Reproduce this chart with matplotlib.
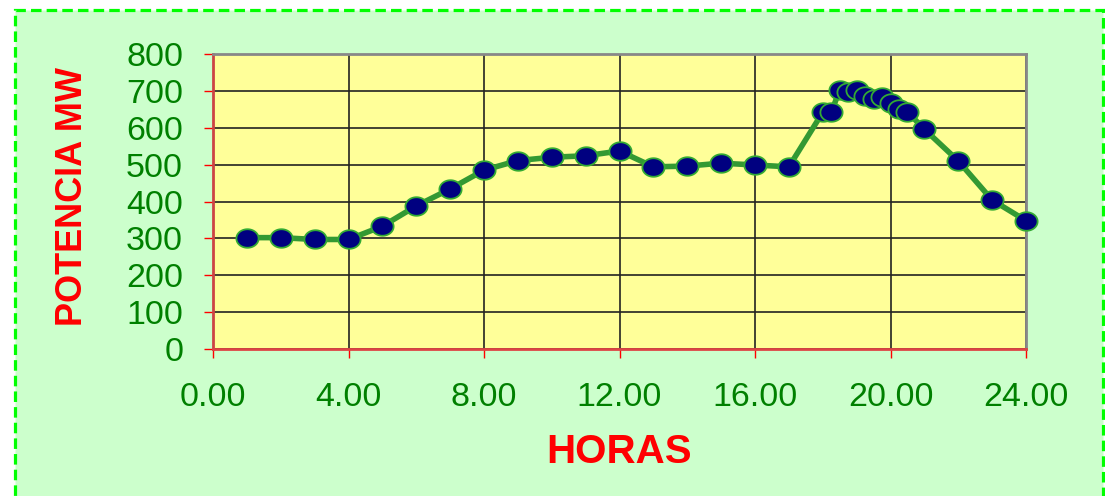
import numpy as np
import matplotlib
matplotlib.use("Agg")
from matplotlib import pyplot as plt
from matplotlib.patches import Rectangle
from matplotlib.path import Path

# daily load curve
horas = [1, 2, 3, 4, 5, 6, 7, 8, 9, 10, 11, 12, 13, 14, 15, 16, 17,
         18, 18.25, 18.5, 18.75, 19, 19.25, 19.5, 19.75, 20, 20.25, 20.5,
         21, 22, 23, 24]
potencia = [302, 302, 297, 297, 333, 388, 434, 485, 511, 520, 524, 537,
            494, 496, 504, 499, 494,
            642, 642, 702, 698, 702, 686, 677, 683, 668, 650, 643,
            596, 510, 404, 348]

x_ticks = [0, 4, 8, 12, 16, 20, 24]
x_labels = ["%.2f" % t for t in x_ticks]
y_ticks = [0, 100, 200, 300, 400, 500, 600, 700, 800]

plt.rcParams['font.family'] = ['Liberation Sans', 'DejaVu Sans']

fig = plt.figure(figsize=(11.05, 4.96), dpi=100)
fig.patch.set_facecolor('white')

# outer green dashed frame
frame = Rectangle((14.5 / 1105, -0.05), (1103 - 14.5) / 1105, 1.05 - 10.5 / 496,
                  transform=fig.transFigure, facecolor='#CCFFCC',
                  edgecolor='#00FF00', lw=2.3, linestyle=(0, (3.3, 1.6)),
                  zorder=-10)
fig.patches.append(frame)

ax = fig.add_axes([213 / 1105, 1 - 349 / 496, (1026 - 213) / 1105, (349 - 54) / 496])
ax.set_zorder(1)
ax.set_facecolor('#FFFF99')

# ellipse marker a bit wider than tall
t = np.linspace(0, 2 * np.pi, 60)
ellipse = Path(np.column_stack([1.2 * np.cos(t), np.sin(t)]), closed=True)

ax.plot(horas, potencia, color='#339933', lw=4, marker=ellipse, ms=16,
        markerfacecolor='#000080', markeredgecolor='#33AA33', markeredgewidth=1.3,
        zorder=3, clip_on=False)

ax.set_xlim(0, 24)
ax.set_ylim(0, 800)
ax.set_xticks(x_ticks)
ax.set_xticklabels(x_labels)
ax.set_yticks(y_ticks)

ax.grid(True, color='#222222', lw=1.2)
ax.set_axisbelow(True)

for s in ['top', 'right']:
    ax.spines[s].set_color('#888888')
    ax.spines[s].set_linewidth(2)
ax.spines['left'].set_color('#CC4444')
ax.spines['bottom'].set_color('#DD4444')
ax.spines['left'].set_linewidth(2)
ax.spines['bottom'].set_linewidth(2)

ax.tick_params(axis='both', colors='red', direction='out', length=6.5, width=1,
               labelcolor='#008000', labelsize=24.5)
ax.tick_params(axis='y', pad=15)
ax.tick_params(axis='x', pad=17)

fig.text(72 / 1105, 1 - 197 / 496, 'POTENCIA MW', rotation=90, color='red',
         fontsize=26, fontweight='bold', ha='center', va='center')
fig.text(619 / 1105, 1 - 452 / 496, 'HORAS', color='red',
         fontsize=29, fontweight='bold', ha='center', va='center')

fig.savefig('out.png', dpi=100, facecolor=fig.get_facecolor())
